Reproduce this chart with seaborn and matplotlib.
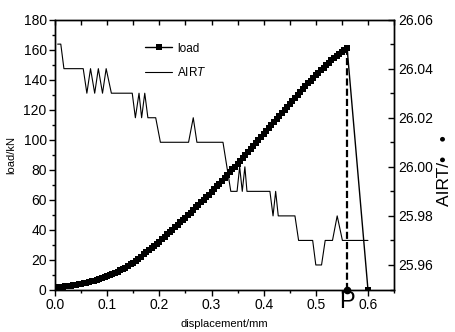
import matplotlib
matplotlib.use("Agg")
import matplotlib.pyplot as plt
import seaborn as sns
from matplotlib.lines import Line2D
from matplotlib.ticker import MultipleLocator, FormatStrFormatter

# load curve (mm, kN), last point is the drop after failure
displacement = [0.000, 0.005, 0.010, 0.015, 0.020, 0.025, 0.030, 0.035, 0.040, 0.045,
                0.050, 0.055, 0.060, 0.065, 0.070, 0.075, 0.080, 0.085, 0.090, 0.095,
                0.100, 0.105, 0.110, 0.115, 0.120, 0.125, 0.130, 0.135, 0.140, 0.145,
                0.150, 0.155, 0.160, 0.165, 0.170, 0.175, 0.180, 0.185, 0.190, 0.195,
                0.200, 0.205, 0.210, 0.215, 0.220, 0.225, 0.230, 0.235, 0.240, 0.245,
                0.250, 0.255, 0.260, 0.265, 0.270, 0.275, 0.280, 0.285, 0.290, 0.295,
                0.300, 0.305, 0.310, 0.315, 0.320, 0.325, 0.330, 0.335, 0.340, 0.345,
                0.350, 0.355, 0.360, 0.365, 0.370, 0.375, 0.380, 0.385, 0.390, 0.395,
                0.400, 0.405, 0.410, 0.415, 0.420, 0.425, 0.430, 0.435, 0.440, 0.445,
                0.450, 0.455, 0.460, 0.465, 0.470, 0.475, 0.480, 0.485, 0.490, 0.495,
                0.500, 0.505, 0.510, 0.515, 0.520, 0.525, 0.530, 0.535, 0.540, 0.545,
                0.550, 0.555, 0.560, 0.600]
load = [1.5, 1.6, 1.8, 2.0, 2.2, 2.4, 2.6, 2.9, 3.2, 3.5,
        3.8, 4.2, 4.6, 5.0, 5.4, 5.9, 6.4, 6.9, 7.5, 8.1,
        8.7, 9.4, 10.2, 11.0, 11.8, 12.7, 13.6, 14.6, 15.7, 16.8,
        18.0, 19.3, 20.6, 22.0, 23.4, 24.8, 26.2, 27.6, 29.1, 30.5,
        32.0, 33.6, 35.2, 36.8, 38.4, 40.0, 41.6, 43.2, 44.8, 46.4,
        48.0, 49.6, 51.3, 53.0, 54.7, 56.4, 58.1, 59.8, 61.5, 63.2,
        65.0, 66.8, 68.7, 70.6, 72.5, 74.4, 76.3, 78.2, 80.1, 82.0,
        84.0, 86.0, 88.0, 90.0, 92.0, 94.0, 96.0, 98.0, 100.0, 102.0,
        104.0, 106.0, 108.0, 110.0, 112.0, 114.0, 116.0, 118.0, 120.0, 122.0,
        124.0, 126.0, 127.9, 129.8, 131.7, 133.6, 135.5, 137.4, 139.3, 141.2,
        143.0, 144.7, 146.4, 148.0, 149.6, 151.2, 152.8, 154.3, 155.8, 157.2,
        158.6, 159.8, 161.0, 0.0]

# air temperature trace
airt_x = [0.005, 0.011, 0.017, 0.054, 0.061, 0.068, 0.076, 0.083, 0.091, 0.098,
          0.108, 0.148, 0.154, 0.161, 0.166, 0.172, 0.178, 0.193, 0.202, 0.256,
          0.265, 0.272, 0.322, 0.337, 0.349, 0.354, 0.359, 0.364, 0.368, 0.412,
          0.418, 0.423, 0.428, 0.460, 0.467, 0.494, 0.500, 0.511, 0.518, 0.532,
          0.541, 0.551, 0.600]
airt = [26.05, 26.05, 26.04, 26.04, 26.03, 26.04, 26.03, 26.04, 26.03, 26.04,
        26.03, 26.03, 26.02, 26.03, 26.02, 26.03, 26.02, 26.02, 26.01, 26.01,
        26.02, 26.01, 26.01, 25.99, 25.99, 26.00, 25.99, 26.00, 25.99, 25.99,
        25.98, 25.99, 25.98, 25.98, 25.97, 25.97, 25.96, 25.96, 25.97, 25.97,
        25.98, 25.97, 25.97]

peak_x = 0.56
peak_load = 161.0

sns.set_style("ticks", {"axes.edgecolor": "black", "xtick.color": "black",
                        "ytick.color": "black", "text.color": "black",
                        "axes.labelcolor": "black"})
plt.rcParams['font.family'] = ['Liberation Sans', 'DejaVu Sans']
plt.rcParams['mathtext.fontset'] = 'custom'
plt.rcParams['mathtext.rm'] = 'Liberation Sans'
plt.rcParams['mathtext.it'] = 'Liberation Sans:italic'

fig = plt.figure(figsize=(4.55, 3.32), dpi=100)
ax = fig.add_axes([0.121, 0.128, 0.745, 0.813])
ax2 = ax.twinx()

sns.lineplot(x=displacement, y=load, ax=ax, color='black', lw=1, marker='s',
             markersize=4.6, markeredgewidth=0, sort=False, estimator=None)
sns.lineplot(x=airt_x, y=airt, ax=ax2, color='black', lw=0.8,
             sort=False, estimator=None)

# failure point P
ax.plot([peak_x, peak_x], [0, peak_load], color='black', lw=1.6,
        linestyle=(0, (3.2, 1.4)))
ax.plot([peak_x], [0], marker='o', color='black', markersize=4.5, clip_on=False)
ax.annotate('P', xy=(peak_x, 0), xytext=(0, -1), textcoords='offset points',
            ha='center', va='top', fontsize=17)

ax.set_xlim(0, 0.65)
ax.set_ylim(0, 180)
ax2.set_ylim(25.95, 26.06)

ax.xaxis.set_major_locator(MultipleLocator(0.1))
ax.xaxis.set_minor_locator(MultipleLocator(0.05))
ax.xaxis.set_major_formatter(FormatStrFormatter('%.1f'))
ax.yaxis.set_major_locator(MultipleLocator(20))
ax.yaxis.set_minor_locator(MultipleLocator(10))
ax2.yaxis.set_major_locator(MultipleLocator(0.02))
ax2.yaxis.set_minor_locator(MultipleLocator(0.01))
ax2.yaxis.set_major_formatter(FormatStrFormatter('%.2f'))

ax.tick_params(axis='both', which='both', direction='out', labelsize=10, width=1, pad=2)
ax.tick_params(which='major', length=4)
ax.tick_params(which='minor', length=2.5)
ax.tick_params(axis='x', top=False)
ax.tick_params(axis='y', right=False)

ax2.xaxis.set_visible(True)
ax2.tick_params(axis='x', which='both', top=True, bottom=False, labeltop=False,
                labelbottom=False, direction='in', length=3.5, width=1)
ax2.tick_params(axis='y', which='both', direction='in', labelsize=10, width=1, pad=3)
ax2.tick_params(axis='y', which='major', length=4)
ax2.tick_params(axis='y', which='minor', length=3)

for a in (ax, ax2):
    for s in a.spines.values():
        s.set_linewidth(1)
        s.set_visible(True)

ax.set_xlabel('displacement/mm', fontsize=8, labelpad=5)
ax.set_ylabel('load/kN', fontsize=8, labelpad=5)
ax2.set_ylabel('AIRT/\u2022   \u2022', fontsize=12.5)
ax2.yaxis.set_label_coords(1.128, 0.44)

handles = [Line2D([], [], color='black', lw=1, marker='s', markersize=4.6, markeredgewidth=0),
           Line2D([], [], color='black', lw=0.8)]
ax.legend(handles, ['load', 'AIR$T$'], loc='upper left', bbox_to_anchor=(0.266, 0.915),
          frameon=False, fontsize=8.5, labelspacing=1.0, handlelength=2.3,
          handletextpad=0.4, borderaxespad=0, borderpad=0)

fig.savefig('out.png', dpi=100)
